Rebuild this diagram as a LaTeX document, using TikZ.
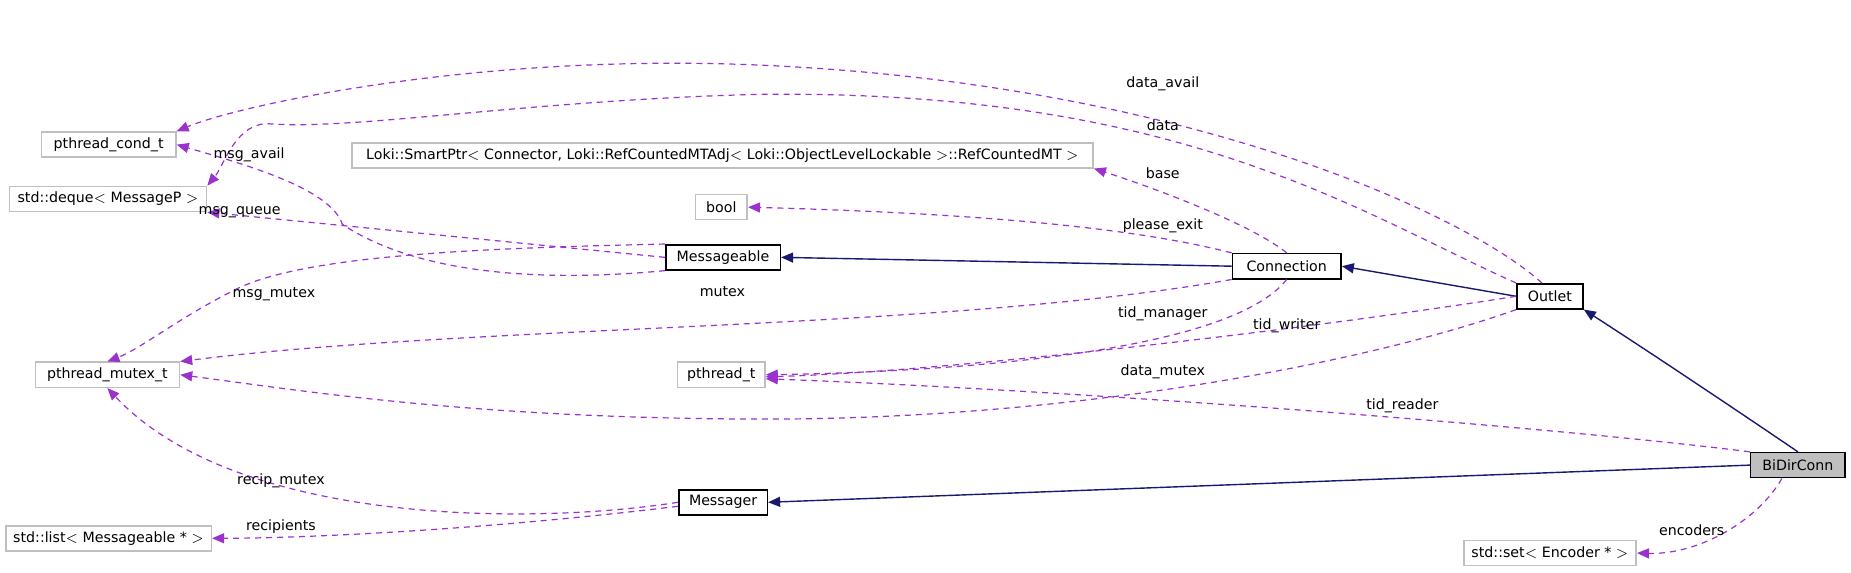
\documentclass[tikz,border=0pt]{standalone}
\usepackage{fontspec}
\setmainfont{DejaVu Sans}
\usetikzlibrary{arrows.meta}
\definecolor{mem}{HTML}{9A32CD}
\definecolor{inh}{HTML}{191970}
\definecolor{ext}{HTML}{BFBFBF}
\tikzset{
  cls/.style={draw=black,line width=0.8pt,fill=white,minimum height=12.5pt,inner sep=0pt,font=\fontsize{7.1}{8}\selectfont},
  extcls/.style={cls,draw=ext},
  mainc/.style={cls,fill=ext},
  memb/.style={draw=mem,dashed,dash pattern=on 3pt off 2.5pt,line width=0.6pt,-{Triangle[length=6pt,width=5pt]}},
  inhe/.style={draw=inh,line width=0.7pt,-{Triangle[length=6pt,width=5pt]}},
  lbl/.style={font=\fontsize{7.1}{8}\selectfont,inner sep=0pt}
}
\begin{document}
\begin{tikzpicture}[x=0.59pt,y=-0.59pt]
\useasboundingbox (0,0) rectangle (1568,484.7);
\node[extcls,minimum width=114*0.59pt] (cond) at (92,122.5) {pthread\_cond\_t};
\node[extcls,minimum width=167*0.59pt] (deque) at (91.5,168.5) {std::deque$<$ MessageP $>$};
\node[extcls,minimum width=628*0.59pt] (loki) at (612,131.5) {Loki::SmartPtr$<$ Connector, Loki::RefCountedMTAdj$<$ Loki::ObjectLevelLockable $>$::RefCountedMT $>$};
\node[extcls,minimum width=44*0.59pt] (bool) at (611,175.5) {bool};
\node[cls,minimum width=97*0.59pt] (mable) at (612.5,218) {Messageable};
\node[cls,minimum width=92*0.59pt] (conn) at (1090,225.5) {Connection};
\node[cls,minimum width=56*0.59pt] (outlet) at (1313,251) {Outlet};
\node[extcls,minimum width=122*0.59pt] (mutex) at (91,317.5) {pthread\_mutex\_t};
\node[extcls,minimum width=74*0.59pt] (pt) at (611,317.5) {pthread\_t};
\node[mainc,minimum width=80*0.59pt] (bidir) at (1523,394) {BiDirConn};
\node[cls,minimum width=75*0.59pt] (mger) at (612.5,425.5) {Messager};
\node[extcls,minimum width=174*0.59pt] (list) at (92,456) {std::list$<$ Messageable * $>$};
\node[extcls,minimum width=146*0.59pt] (set) at (1313,468.5) {std::set$<$ Encoder * $>$};

% inheritance
\draw[inhe] (conn.west) -- (mable.east);
\draw[inhe] (outlet.west) -- (conn.east);
\draw[inhe] (bidir.north) .. controls (1460,340) and (1400,300) .. (outlet.south east);
\draw[inhe] (bidir.west) -- (mger.east);

% members
\draw[memb] ([xshift=-4pt]outlet.north) .. controls (1240,180) and (1000,70) .. (640,55) .. controls (400,45) and (200,90) .. (cond.north east);
\draw[memb] (outlet.north west) .. controls (1150,180) and (1000,75) .. (640,80) .. controls (450,85) and (300,110) .. (230,105) .. controls (200,102) and (190,140) .. (deque.north east);
\draw[memb] (conn.north) .. controls (1060,190) and (980,160) .. (loki.south east);
\draw[memb] (conn.north west) .. controls (950,190) and (800,180) .. (bool.east);
\draw[memb] (mable.west) -- (deque.south east);
\draw[memb] (mable.south west) .. controls (450,240) and (350,230) .. (290,190) .. controls (280,160) and (210,140) .. (cond.east);
\draw[memb] (mable.north west) .. controls (420,210) and (260,215) .. (200,245) .. controls (150,270) and (120,295) .. (mutex.north);
\draw[memb] (conn.south west) .. controls (800,280) and (400,275) .. (mutex.north east);
\draw[memb] (conn.south) .. controls (1040,300) and (800,315) .. (pt.east);
\draw[memb] (outlet.west) .. controls (1100,280) and (800,315) .. ([yshift=-1pt]pt.east);
\draw[memb] (outlet.south west) .. controls (1150,310) and (900,355) .. (650,355) .. controls (400,355) and (250,330) .. (mutex.east);
\draw[memb] (bidir.north west) .. controls (1300,360) and (900,330) .. ([yshift=-2pt]pt.east);
\draw[memb] (mger.west) .. controls (450,445) and (200,445) .. (mutex.south);
\draw[memb] ([yshift=-2pt]mger.west) .. controls (400,450) and (250,456) .. (list.east);
\draw[memb] ([xshift=-8pt]bidir.south) .. controls (1490,440) and (1440,470) .. (set.east);

% labels
\node[lbl] at (985,71) {data\_avail};
\node[lbl] at (985,106) {data};
\node[lbl] at (985,147) {base};
\node[lbl] at (985,191) {please\_exit};
\node[lbl] at (211,131) {msg\_avail};
\node[lbl] at (203,180) {msg\_queue};
\node[lbl] at (232,249) {msg\_mutex};
\node[lbl] at (612,247) {mutex};
\node[lbl] at (985,266) {tid\_manager};
\node[lbl] at (1090,276) {tid\_writer};
\node[lbl] at (985,315) {data\_mutex};
\node[lbl] at (1188,344) {tid\_reader};
\node[lbl] at (238,407) {recip\_mutex};
\node[lbl] at (238,446) {recipients};
\node[lbl] at (1433,449) {encoders};
\end{tikzpicture}
\end{document}
